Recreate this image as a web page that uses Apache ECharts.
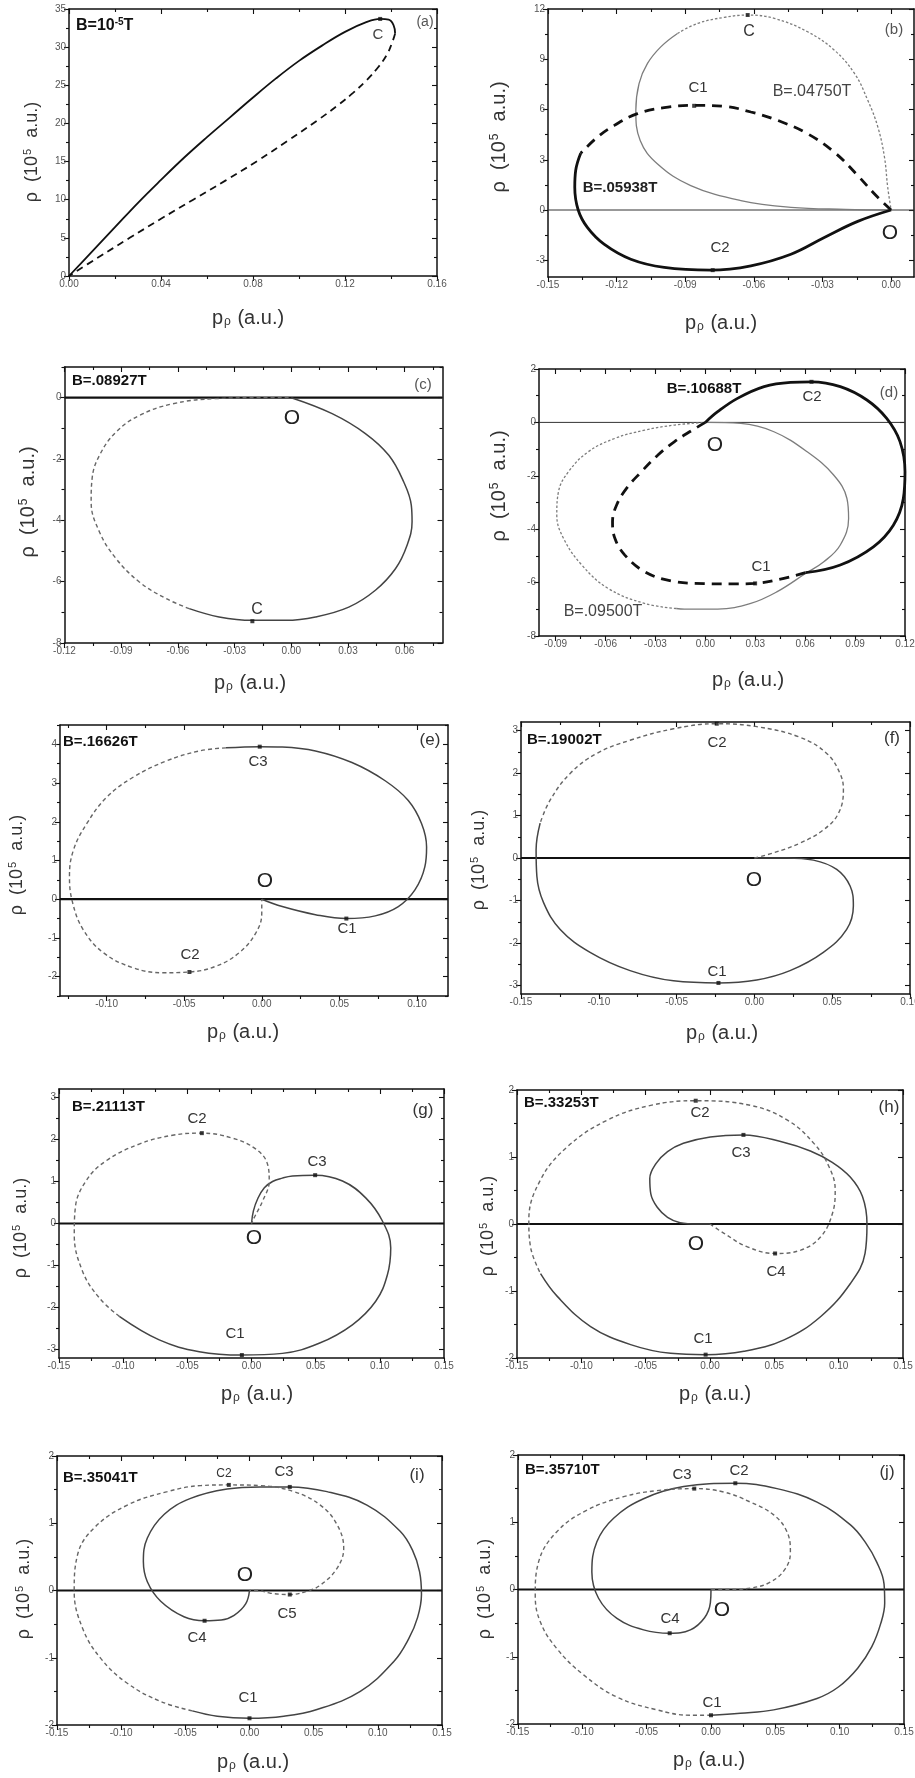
<!DOCTYPE html>
<html><head><meta charset="utf-8">
<script src="https://cdn.jsdelivr.net/npm/echarts@6/dist/echarts.min.js"></script>
<style>html,body{margin:0;padding:0;background:#fff}#c{width:915px;height:1778px}</style>
</head><body><div id="c"></div>
<script>
// ---------------- DATA (p_rho [a.u.], rho [1e5 a.u.]) ----------------
const a_xTicks = [0, 0.04, 0.08, 0.12, 0.16];
const a_yTicks = [0, 5, 10, 15, 20, 25, 30, 35];
const a_solid = [[0,0],[0.01,3.2],[0.02,6.4],[0.03,9.6],[0.04,12.6],[0.05,15.5],[0.06,18.2],[0.07,20.8],[0.08,23.4],[0.09,25.9],[0.10,28.2],[0.11,30.2],[0.12,32.0],[0.1295,33.3],[0.1353,33.7],[0.139,33.6],[0.1411,32.9],[0.1418,31.8]];
const a_dash = [[0.1418,31.8],[0.1405,30.6],[0.1382,29.0],[0.1345,27.4],[0.1295,25.7],[0.1235,24.0],[0.117,22.4],[0.108,20.4],[0.095,17.7],[0.082,15.1],[0.068,12.5],[0.054,10],[0.040,7.5],[0.0264,5],[0.012,2.3],[0,0]];
const a_marks = [[0.1353,33.7]];

const b_xTicks = [-0.15, -0.12, -0.09, -0.06, -0.03, 0.00];
const b_yTicks = [-3, 0, 3, 6, 9, 12];
const b_B04750_solid = [[0,0],[-0.02,0.04],[-0.0438,0.16],[-0.0657,0.56],[-0.0876,1.46],[-0.1021,2.75],[-0.1097,4.15],[-0.1116,5.95],[-0.1102,7.55],[-0.1065,8.75],[-0.1007,9.74],[-0.0934,10.54]];
const b_B04750_dot = [[-0.0934,10.54],[-0.0846,11.14],[-0.073,11.5],[-0.0627,11.64],[-0.0511,11.44],[-0.0365,10.64],[-0.0248,9.54],[-0.016,8.15],[-0.0102,6.55],[-0.0058,4.95],[-0.0029,3.15],[-0.0015,1.36],[0,0]];
const b_B05938_dash = [[0,0],[-0.0066,0.86],[-0.0146,2.06],[-0.0248,3.45],[-0.0365,4.55],[-0.0496,5.35],[-0.0613,5.85],[-0.073,6.19],[-0.086,6.25],[-0.0992,6.11],[-0.1109,5.75],[-0.121,5.05],[-0.1284,4.35],[-0.1357,3.39]];
const b_B05938_solid = [[-0.1357,3.39],[-0.1379,2.36],[-0.1383,1.36],[-0.1368,0],[-0.1328,-1.04],[-0.1255,-2.04],[-0.1138,-2.94],[-0.0992,-3.43],[-0.0788,-3.59],[-0.0613,-3.33],[-0.0438,-2.64],[-0.0292,-1.64],[-0.0146,-0.68],[0,0]];
const b_marks = [[-0.0627,11.64],[-0.0861,6.22],[-0.078,-3.59]];

const c_xTicks = [-0.12, -0.09, -0.06, -0.03, 0.00, 0.03, 0.06];
const c_yTicks = [-8, -6, -4, -2, 0];
const c_solid = [[0,0],[0.0216,-0.52],[0.0392,-1.17],[0.0516,-1.88],[0.0595,-2.75],[0.0635,-3.51],[0.0639,-4.05],[0.0612,-4.82],[0.0551,-5.58],[0.0445,-6.28],[0.0304,-6.83],[0.0128,-7.15],[-0.003,-7.26],[-0.0206,-7.26],[-0.0382,-7.15],[-0.054,-6.88]];
const c_dash = [[-0.054,-6.88],[-0.0663,-6.55],[-0.0804,-6.01],[-0.0927,-5.25],[-0.1015,-4.38],[-0.1059,-3.40],[-0.1054,-2.64],[-0.1015,-1.88],[-0.0927,-1.12],[-0.0804,-0.58],[-0.0628,-0.20],[-0.04,-0.03],[-0.0135,0],[0,0]];
const c_marks = [[-0.0206,-7.29]];

const d_xTicks = [-0.09, -0.06, -0.03, 0.00, 0.03, 0.06, 0.09, 0.12];
const d_yTicks = [-8, -6, -4, -2, 0, 2];
const d_B10688_solid = [[0,0],[0.0074,0.4],[0.0193,0.9],[0.0353,1.34],[0.0512,1.5],[0.0638,1.52],[0.0811,1.34],[0.0971,0.84],[0.109,0.15],[0.117,-0.72],[0.12,-1.85],[0.119,-2.85],[0.113,-3.85],[0.101,-4.66],[0.0811,-5.34],[0.0602,-5.63]];
const d_B10688_dash = [[0.0602,-5.63],[0.0432,-5.9],[0.0299,-6.03],[0.0153,-6.05],[-0.0006,-6.04],[-0.0205,-5.94],[-0.0365,-5.59],[-0.0484,-4.97],[-0.0544,-4.34],[-0.0558,-3.72],[-0.0534,-3.10],[-0.0474,-2.47],[-0.0385,-1.85],[-0.0285,-1.22],[-0.0185,-0.72],[-0.0086,-0.32],[0,0]];
const d_B09500_solid = [[0,0],[0.0213,-0.04],[0.0412,-0.35],[0.0612,-1.10],[0.0771,-1.97],[0.0851,-2.85],[0.0861,-3.60],[0.0811,-4.59],[0.0712,-5.22],[0.0602,-5.66],[0.0432,-6.34],[0.0273,-6.78],[0.0074,-6.99],[-0.0126,-6.99],[-0.0175,-6.97]];
const d_B09500_dot = [[-0.0175,-6.97],[-0.0365,-6.78],[-0.0584,-6.22],[-0.0743,-5.34],[-0.0853,-4.34],[-0.0893,-3.47],[-0.0883,-2.60],[-0.0823,-1.85],[-0.0704,-1.10],[-0.0544,-0.60],[-0.0365,-0.29],[-0.0185,-0.10],[0,0]];
const d_marks = [[0.0638,1.52],[0.0299,-6.03]];

const e_xTicks = [-0.10, -0.05, 0.00, 0.05, 0.10];
const e_yTicks = [-2, -1, 0, 1, 2, 3, 4];
const e_solid = [[0,0],[0.0132,-0.19],[0.0346,-0.40],[0.0545,-0.50],[0.0731,-0.43],[0.088,-0.19],[0.0987,0.24],[0.1051,0.84],[0.1062,1.35],[0.103,1.95],[0.0944,2.55],[0.0795,3.06],[0.0581,3.53],[0.0346,3.83],[0.0132,3.93],[-0.0013,3.94],[-0.0231,3.91]];
const e_dash = [[-0.0231,3.91],[-0.0402,3.83],[-0.0615,3.57],[-0.0829,3.15],[-0.1,2.63],[-0.1128,1.95],[-0.1214,1.26],[-0.1239,0.58],[-0.1218,-0.10],[-0.115,-0.79],[-0.1021,-1.38],[-0.0829,-1.77],[-0.0637,-1.90],[-0.0466,-1.88],[-0.0295,-1.73],[-0.0145,-1.38],[-0.0038,-0.87],[0,-0.36],[0,0]];
const e_marks = [[-0.0013,3.94],[-0.0466,-1.88],[0.0545,-0.50]];

const f_xTicks = [-0.15, -0.10, -0.05, 0.00, 0.05, 0.10];
const f_yTicks = [-3, -2, -1, 0, 1, 2, 3];
const f_dash = [[0,0],[0.0122,0.12],[0.0293,0.35],[0.0443,0.66],[0.054,1.05],[0.0572,1.60],[0.055,1.99],[0.0465,2.46],[0.0293,2.84],[0.0015,3.09],[-0.0242,3.16],[-0.052,3.04],[-0.0799,2.77],[-0.1013,2.46],[-0.1184,1.99],[-0.1313,1.36],[-0.1377,0.82]];
const f_solid = [[-0.1377,0.82],[-0.1403,0.19],[-0.1398,-0.43],[-0.1355,-1.05],[-0.1248,-1.68],[-0.1056,-2.22],[-0.0799,-2.65],[-0.052,-2.89],[-0.0231,-2.94],[0.0015,-2.87],[0.0229,-2.65],[0.0443,-2.22],[0.0593,-1.68],[0.0636,-1.13],[0.0615,-0.66],[0.0529,-0.27],[0.0379,-0.05],[0.0208,0],[0,0]];
const f_marks = [[-0.0242,3.16],[-0.0231,-2.94]];

const g_xTicks = [-0.15, -0.10, -0.05, 0.00, 0.05, 0.10, 0.15];
const g_yTicks = [-3, -2, -1, 0, 1, 2, 3];
const g_solid = [[0,0],[0.0015,0.3],[0.005,0.6],[0.010,0.85],[0.0164,1.0],[0.024,1.08],[0.0319,1.13],[0.0496,1.15],[0.0709,1.01],[0.089,0.61],[0.102,0.06],[0.1085,-0.58],[0.1059,-1.22],[0.0968,-1.85],[0.0786,-2.41],[0.0527,-2.85],[0.0241,-3.09],[-0.0075,-3.13],[-0.0407,-3.05],[-0.0719,-2.77],[-0.103,-2.21]];
const g_dash = [[-0.103,-2.21],[-0.1186,-1.77],[-0.1316,-1.14],[-0.1381,-0.26],[-0.1373,0.37],[-0.129,1.01],[-0.1134,1.49],[-0.0875,1.89],[-0.0615,2.10],[-0.0387,2.15],[-0.0148,2.03],[0.0034,1.77],[0.0125,1.41],[0.0138,1.01],[0.0086,0.53],[0.0021,0.14],[0,0]];
const g_marks = [[-0.0387,2.15],[0.0496,1.15],[-0.0075,-3.13]];

const h_xTicks = [-0.15, -0.10, -0.05, 0.00, 0.05, 0.10, 0.15];
const h_yTicks = [-2, -1, 0, 1, 2];
const h_dash = [[0,0],[0.0109,-0.14],[0.029,-0.34],[0.0506,-0.44],[0.0705,-0.39],[0.0861,-0.19],[0.0952,0.16],[0.0973,0.51],[0.0926,0.85],[0.0809,1.20],[0.0602,1.55],[0.0316,1.77],[-0.0111,1.84],[-0.0461,1.77],[-0.0799,1.55],[-0.111,1.15],[-0.1317,0.66],[-0.1408,0.06],[-0.1395,-0.34],[-0.1317,-0.74]];
const h_solid = [[-0.1317,-0.74],[-0.1187,-1.08],[-0.0928,-1.53],[-0.0617,-1.80],[-0.0306,-1.93],[-0.0034,-1.95],[0.0264,-1.90],[0.0576,-1.73],[0.0861,-1.38],[0.1094,-0.88],[0.1205,-0.44],[0.122,0],[0.1185,0.41],[0.109,0.70],[0.095,0.92],[0.078,1.09],[0.057,1.22],[0.026,1.33],[0.0002,1.30],[-0.0207,1.205],[-0.033,1.08],[-0.042,0.90],[-0.0468,0.68],[-0.046,0.45],[-0.041,0.25],[-0.033,0.10],[-0.0232,0.02],[-0.01,0],[0,0]];
const h_marks = [[-0.0111,1.84],[0.026,1.33],[0.0506,-0.44],[-0.0034,-1.95]];

const i_xTicks = [-0.15, -0.10, -0.05, 0.00, 0.05, 0.10, 0.15];
const i_yTicks = [-2, -1, 0, 1, 2];
const i_solid = [[0,0],[-0.003,-0.2],[-0.012,-0.37],[-0.022,-0.44],[-0.035,-0.45],[-0.0511,-0.39],[-0.0692,-0.16],[-0.0796,0.13],[-0.0827,0.43],[-0.0796,0.78],[-0.0666,1.13],[-0.0459,1.37],[-0.0174,1.51],[0.0086,1.54],[0.0314,1.54],[0.0604,1.47],[0.0915,1.27],[0.1174,0.88],[0.127,0.60],[0.1325,0.28],[0.134,-0.06],[0.131,-0.40],[0.124,-0.72],[0.1123,-1.06],[0.0863,-1.50],[0.0526,-1.77],[0.0267,-1.87],[0,-1.90],[-0.0251,-1.87],[-0.0446,-1.79]];
const i_dash = [[-0.0446,-1.79],[-0.0692,-1.65],[-0.0952,-1.38],[-0.1159,-1.01],[-0.1301,-0.56],[-0.1366,-0.01],[-0.134,0.53],[-0.1211,0.93],[-0.0952,1.27],[-0.064,1.47],[-0.0381,1.56],[-0.0161,1.57],[0.0086,1.56],[0.0345,1.47],[0.0552,1.27],[0.0682,0.98],[0.0734,0.63],[0.0682,0.33],[0.0552,0.08],[0.0449,-0.01],[0.0314,-0.06],[0.0163,-0.04],[0.006,0],[0,0]];
const i_marks = [[-0.0161,1.57],[0.0314,1.54],[-0.035,-0.45],[0.0314,-0.06],[0,-1.90]];

const j_xTicks = [-0.15, -0.10, -0.05, 0.00, 0.05, 0.10, 0.15];
const j_yTicks = [-2, -1, 0, 1, 2];
const j_solid = [[0,0],[-0.0005,-0.2],[-0.005,-0.42],[-0.016,-0.6],[-0.0321,-0.65],[-0.0524,-0.60],[-0.0731,-0.43],[-0.0874,-0.13],[-0.0926,0.26],[-0.0887,0.71],[-0.0757,1.06],[-0.0524,1.35],[-0.0213,1.53],[0.0189,1.58],[0.0513,1.50],[0.0824,1.30],[0.1084,0.96],[0.120,0.70],[0.129,0.40],[0.1345,0.08],[0.135,-0.20],[0.132,-0.50],[0.125,-0.85],[0.114,-1.17],[0.099,-1.45],[0.0824,-1.62],[0.0487,-1.79],[0.0228,-1.84],[0,-1.87]];
const j_dash = [[0,-1.87],[-0.0161,-1.87],[-0.042,-1.79],[-0.0731,-1.60],[-0.099,-1.27],[-0.1198,-0.88],[-0.1327,-0.48],[-0.1366,-0.08],[-0.134,0.41],[-0.1198,0.86],[-0.0964,1.18],[-0.0679,1.38],[-0.042,1.47],[-0.013,1.50],[0.0099,1.45],[0.0306,1.30],[0.0487,1.11],[0.059,0.86],[0.0617,0.56],[0.0578,0.31],[0.0461,0.11],[0.0306,0.02],[0.015,0],[0,0]];
const j_marks = [[-0.013,1.50],[0.0189,1.58],[-0.0321,-0.65],[0,-1.87]];

// ---------------- STYLES / LAYOUT ----------------
const FF = '"Liberation Sans", Arial, sans-serif';
const S = {
  blk:   {color:'#111', width:1.8, type:'solid'},
  blkD:  {color:'#111', width:1.8, type:[7,5]},
  thick: {color:'#111', width:2.8, type:'solid'},
  thickD:{color:'#111', width:2.8, type:[10,7]},
  gry:   {color:'#7d7d7d', width:1.3, type:'solid'},
  gryDot:{color:'#7d7d7d', width:1.3, type:[2.5,2]},
  mid:   {color:'#444', width:1.5, type:'solid'},
  midD:  {color:'#666', width:1.4, type:[4,3]},
};
const Z0 = {thin:{color:'#333', width:1}, bold:{color:'#111', width:2.2}};

const panels = [
 {g:[69,9,368,267], x:[0,0.16], y:[0,35], xt:a_xTicks, yt:a_yTicks, zero:null,
  series:[[a_solid,S.blk],[a_dash,S.blkD]], marks:a_marks},
 {g:[548,9,366,268], x:[-0.15,0.01], y:[-4,12], xt:b_xTicks, yt:b_yTicks, zero:Z0.thin,
  series:[[b_B04750_solid,S.gry],[b_B04750_dot,S.gryDot],[b_B05938_dash,S.thickD],[b_B05938_solid,S.thick]], marks:b_marks},
 {g:[64.5,367,378,276], x:[-0.12,0.08], y:[-8,1], xt:c_xTicks, yt:c_yTicks, zero:Z0.bold,
  series:[[c_solid,S.mid],[c_dash,S.midD]], marks:c_marks},
 {g:[539,369,366,267], x:[-0.10,0.12], y:[-8,2], xt:d_xTicks, yt:d_yTicks, zero:Z0.thin,
  series:[[d_B09500_solid,S.gry],[d_B09500_dot,S.gryDot],[d_B10688_solid,S.thick],[d_B10688_dash,S.thickD]], marks:d_marks},
 {g:[60,725,388,271], x:[-0.13,0.12], y:[-2.5,4.5], xt:e_xTicks, yt:e_yTicks, zero:Z0.bold,
  series:[[e_solid,S.mid],[e_dash,S.midD]], marks:e_marks},
 {g:[521,722,389,272], x:[-0.15,0.10], y:[-3.2,3.2], xt:f_xTicks, yt:f_yTicks, zero:Z0.bold,
  series:[[f_solid,S.mid],[f_dash,S.midD]], marks:f_marks},
 {g:[59,1089,385,269], x:[-0.15,0.15], y:[-3.2,3.2], xt:g_xTicks, yt:g_yTicks, zero:Z0.bold,
  series:[[g_solid,S.mid],[g_dash,S.midD]], marks:g_marks},
 {g:[517,1090,386,268], x:[-0.15,0.15], y:[-2,2], xt:h_xTicks, yt:h_yTicks, zero:Z0.bold,
  series:[[h_solid,S.mid],[h_dash,S.midD]], marks:h_marks},
 {g:[57,1456,385,269], x:[-0.15,0.15], y:[-2,2], xt:i_xTicks, yt:i_yTicks, zero:Z0.bold,
  series:[[i_solid,S.mid],[i_dash,S.midD]], marks:i_marks},
 {g:[518,1455,386,269], x:[-0.15,0.15], y:[-2,2], xt:j_xTicks, yt:j_yTicks, zero:Z0.bold,
  series:[[j_solid,S.mid],[j_dash,S.midD]], marks:j_marks},
];

const xTitlePos = [[248,318],[721,323],[250,683],[748,680],[243,1032],[722,1033],[257,1394],[715,1394],[253,1762],[709,1760]];
const yTitlePos = [[32,152,18],[499,137,20],[28,502,20],[499,486,20],[17,865,18],[479,860,18],[21,1228,18],[488,1226,18],[24,1589,18],[485,1589,18]];

// annotations: [text, x, y, fontSize, weight, align, color]
const notes = [
 ['{b|B=10}{bs|-5}{b|T}',76,26,16,'bold','left','#111'], ['(a)',425,22,14,'normal','center','#555'], ['C',378,35,15,'normal','center','#444'],
 ['(b)',894,30,15,'normal','center','#555'], ['C',749,32,16,'normal','center','#333'], ['C1',698,88,15,'normal','center','#333'],
 ['B=.04750T',812,92,16,'normal','center','#444'], ['C2',720,248,15,'normal','center','#333'], ['O',890,233,21,'normal','center','#222'],
 ['B=.05938T',620,188,15,'bold','center','#222'],
 ['B=.08927T',72,381,15,'bold','left','#111'], ['(c)',423,385,15,'normal','center','#555'], ['O',292,418,21,'normal','center','#222'], ['C',257,610,16,'normal','center','#333'],
 ['B=.10688T',704,389,15,'bold','center','#111'], ['(d)',889,393,15,'normal','center','#555'], ['C2',812,397,15,'normal','center','#333'],
 ['O',715,445,21,'normal','center','#222'], ['C1',761,567,15,'normal','center','#333'], ['B=.09500T',603,612,16,'normal','center','#444'],
 ['B=.16626T',63,742,15,'bold','left','#111'], ['(e)',430,740,17,'normal','center','#333'], ['C3',258,762,15,'normal','center','#333'],
 ['O',265,881,21,'normal','center','#222'], ['C1',347,929,15,'normal','center','#333'], ['C2',190,955,15,'normal','center','#333'],
 ['B=.19002T',527,740,15,'bold','left','#111'], ['(f)',892,738,17,'normal','center','#333'], ['C2',717,743,15,'normal','center','#333'],
 ['O',754,880,21,'normal','center','#222'], ['C1',717,972,15,'normal','center','#333'],
 ['B=.21113T',72,1107,15,'bold','left','#111'], ['(g)',423,1110,17,'normal','center','#333'], ['C2',197,1119,15,'normal','center','#333'],
 ['C3',317,1162,15,'normal','center','#333'], ['O',254,1238,21,'normal','center','#222'], ['C1',235,1334,15,'normal','center','#333'],
 ['B=.33253T',524,1103,15,'bold','left','#111'], ['(h)',889,1107,17,'normal','center','#333'], ['C2',700,1113,15,'normal','center','#333'],
 ['C3',741,1153,15,'normal','center','#333'], ['C4',776,1272,15,'normal','center','#333'], ['O',696,1244,21,'normal','center','#222'], ['C1',703,1339,15,'normal','center','#333'],
 ['B=.35041T',63,1478,15,'bold','left','#111'], ['(i)',417,1475,17,'normal','center','#333'], ['C2',224,1474,12,'normal','center','#333'],
 ['C3',284,1472,15,'normal','center','#333'], ['O',245,1575,21,'normal','center','#222'], ['C5',287,1614,15,'normal','center','#333'],
 ['C4',197,1638,15,'normal','center','#333'], ['C1',248,1698,15,'normal','center','#333'],
 ['B=.35710T',525,1470,15,'bold','left','#111'], ['(j)',887,1472,17,'normal','center','#333'], ['C3',682,1475,15,'normal','center','#333'],
 ['C2',739,1471,15,'normal','center','#333'], ['C4',670,1619,15,'normal','center','#333'], ['O',722,1610,21,'normal','center','#222'], ['C1',712,1703,15,'normal','center','#333'],
];

// ---------------- BUILD ----------------
function minorOf(major, lo, hi){
  const st = (major[1]-major[0])/2, out = [];
  let v = major[0];
  while (v - st >= lo - 1e-9) v -= st;
  for (; v <= hi + 1e-9; v += st) {
    const r = Math.round(v*1e6)/1e6;
    if (r < lo - 1e-9 || r > hi + 1e-9) continue;
    if (major.some(m => Math.abs(m - r) < 1e-9)) continue;
    out.push(r);
  }
  return out;
}
const AX = {color:'#111', width:1.5};
const TK = {color:'#111', width:1.1};
const grids = [], xAxes = [], yAxes = [], series = [], graphic = [];

function axisSet(dim, gi, lo, hi, major, fmt){
  const minor = minorOf(major, lo, hi);
  const pos = dim === 'x' ? ['bottom','top'] : ['left','right'];
  const base = {type:'value', gridIndex:gi, min:lo, max:hi, splitLine:{show:false}, silent:true};
  const mk = (position, lineShow, ticks, len, inside, labels) => Object.assign({}, base, {
    position,
    axisLine:{show:lineShow, onZero:false, lineStyle:AX},
    axisTick:{show:true, customValues:ticks, length:len, inside, lineStyle:TK},
    axisLabel: labels ? {show:true, customValues:ticks, formatter:fmt, fontSize:10, color:'#555', margin:3, fontFamily:FF} : {show:false},
  });
  return [
    mk(pos[0], true, major, 5, false, true),
    mk(pos[0], false, minor, 3, false, false),
    mk(pos[1], true, major, 5, true, false),
    mk(pos[1], false, minor, 3, true, false),
  ];
}

panels.forEach((p, gi) => {
  grids.push({left:p.g[0], top:p.g[1], width:p.g[2], height:p.g[3], containLabel:false, outerBoundsMode:'none', show:false});
  xAxes.push(...axisSet('x', gi, p.x[0], p.x[1], p.xt, v => v.toFixed(2)));
  yAxes.push(...axisSet('y', gi, p.y[0], p.y[1], p.yt, v => String(v)));
  const ax = gi*4;
  if (p.zero) series.push({type:'line', xAxisIndex:ax, yAxisIndex:ax, data:[[p.x[0],0],[p.x[1],0]], symbol:'none', lineStyle:p.zero, silent:true, z:1});
  p.series.forEach(([d, ls], k) => series.push({type:'line', xAxisIndex:ax, yAxisIndex:ax, data:d, symbol:'none', showSymbol:false, smooth:0.4, lineStyle:ls, silent:true, z:2+k}));
  series.push({type:'scatter', xAxisIndex:ax, yAxisIndex:ax, data:p.marks, symbol:'rect', symbolSize:4, itemStyle:{color:'#111'}, silent:true, z:10});
});

const rx = {n:{fontSize:20, fontFamily:FF, fill:'#333'}, s:{fontSize:12, fontFamily:FF, fill:'#333', verticalAlign:'bottom', padding:[8,1,0,1]}};
xTitlePos.forEach(([x,y]) => graphic.push({type:'text', x, y, silent:true, style:{text:'{n|p}{s|ρ}{n| (a.u.)}', rich:rx, align:'center', verticalAlign:'middle'}}));
yTitlePos.forEach(([x,y,fs]) => graphic.push({type:'text', x, y, rotation:Math.PI/2, silent:true, style:{
  text:'{n|ρ  (10}{s|5}{n|  a.u.)}',
  rich:{n:{fontSize:fs, fontFamily:FF, fill:'#333'}, s:{fontSize:Math.round(fs*0.6), fontFamily:FF, fill:'#333', verticalAlign:'top', padding:[0,1,Math.round(fs*0.45),1]}},
  align:'center', verticalAlign:'middle'}}));
notes.forEach(([t,x,y,fs,fw,al,col]) => graphic.push({type:'text', x, y, silent:true, style:{
  text:t, fontSize:fs, fontWeight:fw, fontFamily:FF, fill:col, align:al, verticalAlign:'middle',
  rich:{b:{fontSize:fs, fontWeight:'bold', fontFamily:FF, fill:col}, bs:{fontSize:10, fontWeight:'bold', fontFamily:FF, fill:col, verticalAlign:'top', padding:[0,0,7,0]}}}}));

const chart = echarts.init(document.getElementById('c'), null, {renderer:'canvas'});
chart.setOption({animation:false, backgroundColor:'#fff', grid:grids, xAxis:xAxes, yAxis:yAxes, series, graphic});
</script></body></html>
